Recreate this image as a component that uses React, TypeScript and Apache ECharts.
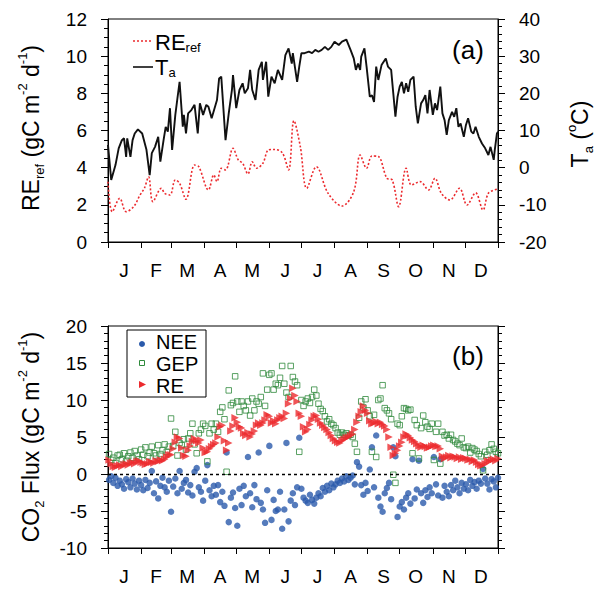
import React, { useEffect, useRef } from 'react';
import * as echarts from 'echarts';

const FONT = "'Liberation Sans', Arial, Helvetica, sans-serif";

// X axis: months (ticks at month starts, letters at mid-month)
const monthLabels = ['J', 'F', 'M', 'A', 'M', 'J', 'J', 'A', 'S', 'O', 'N', 'D'];
const monthStarts = [0, 31, 59, 90, 120, 151, 181, 212, 243, 273, 304, 334, 365];
const monthMids = [15, 45, 74, 105, 135, 166, 196, 227, 258, 288, 319, 349];

// Panel (a): air temperature Ta (right axis, degC)
const taDays = [0, 3, 7, 10, 13, 15, 17, 18, 21, 23, 25, 28, 32, 36, 39, 41, 44, 47, 49, 52, 54, 56, 58, 60, 63, 65, 67, 70, 71, 73, 75, 78, 81, 84, 86, 89, 92, 94, 97, 102, 104, 106, 110, 113, 116, 117, 120, 123, 126, 128, 131, 133, 135, 138, 141, 144, 145, 148, 150, 153, 156, 159, 163, 166, 169, 172, 173, 177, 179, 181, 184, 188, 191, 194, 197, 200, 203, 206, 209, 212, 216, 219, 222, 223, 227, 230, 232, 234, 236, 237, 240, 242, 245, 247, 249, 251, 253, 256, 260, 262, 265, 267, 269, 271, 273, 275, 277, 279, 281, 283, 286, 288, 290, 293, 295, 297, 299, 301, 304, 306, 308, 311, 313, 315, 317, 319, 322, 324, 326, 328, 330, 333, 335, 337, 340, 342, 344, 347, 350, 353, 356, 358, 361, 362, 364, 365];
const taValues = [6.1, -3.3, 0.7, 5.2, 7.4, 7.9, 2.9, 7.9, 2.9, 7.4, 9.2, 10.3, 9.2, 4.8, -2.0, 3.9, 5.6, 8.3, 1.6, 7.4, 11.0, 9.7, 16.0, 4.8, 14.2, 18.7, 23.1, 11.0, 14.2, 9.2, 14.6, 15.5, 16.9, 9.2, 17.3, 14.2, 16.9, 16.4, 13.3, 18.2, 24.0, 24.5, 7.4, 14.6, 20.9, 24.9, 16.0, 20.9, 22.7, 20.0, 21.4, 26.3, 20.9, 18.2, 26.3, 28.5, 23.6, 28.5, 19.1, 24.5, 22.7, 26.3, 23.6, 30.3, 32.1, 28.0, 30.8, 23.1, 27.2, 30.8, 30.8, 31.2, 30.8, 31.7, 31.2, 31.7, 32.5, 31.7, 32.5, 33.9, 33.0, 33.9, 34.3, 34.5, 31.7, 29.4, 26.3, 28.0, 26.3, 29.9, 32.1, 27.2, 19.1, 19.5, 17.7, 27.2, 23.6, 27.6, 29.4, 27.2, 26.3, 20.0, 13.7, 19.1, 21.8, 23.1, 20.0, 22.7, 20.4, 23.6, 24.5, 16.4, 11.9, 17.3, 18.2, 19.5, 14.6, 20.9, 14.2, 17.3, 15.5, 21.8, 14.6, 12.8, 8.8, 12.8, 15.0, 13.7, 16.0, 11.0, 11.9, 8.3, 11.5, 13.3, 9.7, 9.2, 11.0, 8.3, 6.5, 5.2, 3.4, 5.6, 2.1, 4.8, 9.2, 9.7];

// Panel (a): reference respiration REref (left axis)
const reRefDays = [0, 4, 11, 17, 24, 30, 34, 38, 42, 50, 53, 58, 63, 67, 73, 81, 85, 94, 99, 102, 106, 110, 117, 122, 126, 131, 135, 139, 145, 150, 155, 163, 169, 174, 180, 186, 195, 206, 219, 230, 236, 242, 247, 253, 261, 266, 272, 279, 284, 292, 300, 306, 312, 320, 329, 336, 344, 351, 356, 364];
const reRefValues = [3.24, 1.63, 2.35, 1.63, 1.90, 2.53, 2.89, 3.51, 2.17, 2.89, 2.62, 2.53, 3.34, 3.16, 2.30, 4.14, 4.05, 2.80, 3.61, 3.25, 3.97, 3.88, 5.04, 4.41, 4.24, 3.66, 4.32, 3.97, 4.24, 4.95, 4.98, 4.81, 3.88, 6.53, 5.13, 2.89, 4.05, 2.62, 1.94, 2.71, 4.68, 3.97, 4.63, 4.60, 3.43, 3.34, 1.90, 3.97, 3.07, 3.25, 2.80, 3.43, 2.62, 2.26, 2.89, 1.99, 2.65, 1.72, 2.62, 2.84];

// Panel (b): CO2 fluxes, one value every 2nd day starting at day 1
const FLUX_FIRST_DAY = 1;
const FLUX_STEP = 2;
const neeValues = [
  -0.8, -0.3, -1.2, -0.5, -1.6, -0.9, -1.4, -2.0, -0.7, -1.1, -1.8, -0.6, -1.3, -2.1, -0.9,
  -1.5, -2.2, -0.8, -1.9, -1.2, 0.4, -2.6, -1.0, -3.3, -1.6, -0.5, -1.8, -2.4, -0.9,
  -5.1, -1.7, -0.6, -2.6, 0.4, -2.0, -1.2, -0.8, -2.5, -1.5, -2.9, 0.3, 0.8, -1.8, -2.4, -3.6,
  -0.9, 1.2, -2.2, -3.0, -1.6, -2.8, -1.5, -3.8, -2.4, -4.3, 2.9, -6.5, -3.2, -2.5, -4.6,
  -7.0, -2.0, -4.2, -1.6, -3.0, 2.3, -2.6, -4.5, -1.5, -3.4, 2.9, -3.9, -4.8, -6.6, -2.2,
  3.8, -6.2, -3.5, -5.0, -4.8, -2.4, -7.4, -4.8, 4.2, -6.4, -3.6, -2.6, -4.2, -1.8, 4.9,
  -2.0, -3.2, -3.6, -3.9, -2.8, -3.5, -4.0, -3.2, -2.6, -3.0, -1.9, -2.4, -1.6, -2.2, -1.3, -1.8,
  -1.4, -0.9, -1.2, -0.6, -1.0, -0.3, -0.8, -0.5, -0.2, -1.4, 1.6, 1.0, -1.5, -2.8, -1.2,
  -2.3, 0.6, 3.6, -1.8, 5.2, -3.2, -4.4, -5.1, -2.6, -1.9, -1.2, -3.4, 3.6, 2.4, -5.8,
  -4.4, -3.8, -4.8, -3.2, -2.6, -4.0, 2.0, -3.3, -2.1, 1.8, -2.6, -3.9, -2.2, -3.1, -1.8, -2.6,
  2.3, -1.4, -2.9, 2.0, -3.2, -1.6, -2.4, -3.0, -1.5, -2.2, -0.9, -1.8, -2.6, -1.2, -2.0,
  -1.4, -2.2, -0.8, -1.6, -1.1, -2.0, -0.9, -1.3, 0.7, -0.6, -1.3, -2.1, -0.7, -1.0, -1.8, -0.5,
];
const gepValues = [
  2.7, 1.9, 2.2, 1.5, 2.5, 2.6, 2.0, 2.8, 1.8, 2.4, 2.9, 2.2, 3.1, 2.5, 2.0,
  3.3, 2.6, 3.6, 2.4, 2.9, 3.7, 2.8, 2.5, 3.9, 2.7, 3.2, 4.0, 3.0, 3.7,
  7.5, 3.8, 5.7, 2.5, 4.2, 3.9, 4.7, 3.3, 4.8, 5.5, 6.8, 4.0, 2.8, 5.5, 6.0, 6.8,
  6.5, 1.7, 5.5, 6.8, 6.0, 6.8, 5.7, 8.4, 9.0, 7.4, 0.3, 11.3, 9.3, 9.6, 13.2,
  9.8, 8.4, 9.8, 9.2, 8.6, 9.8, 7.9, 10.2, 8.6, 9.8, 9.5, 10.4, 13.6, 9.2, 11.4,
  13.4, 13.6, 11.4, 12.2, 12.0, 13.0, 14.6, 12.2, 11.0, 10.4, 14.6, 13.1, 12.5, 12.0, 3.0,
  10.0, 9.2, 9.8, 10.2, 9.6, 10.4, 11.4, 10.6, 9.5, 8.8, 8.5, 7.8, 7.1, 7.4, 6.8, 6.6,
  6.2, 5.6, 5.3, 5.6, 5.3, 5.5, 5.2, 5.3, 5.0, 4.1, 3.0, 7.6, 9.8, 9.0, 10.1,
  8.6, 7.8, 3.0, 8.0, 2.3, 10.0, 10.2, 12.0, 8.9, 8.6, 8.2, 7.4, -0.1, -1.2, 6.8,
  6.6, 7.8, 8.9, 8.8, 8.6, 8.7, 2.8, 7.3, 6.6, 2.1, 6.2, 7.9, 7.0, 6.4, 6.1, 6.8,
  1.9, 5.7, 6.8, 1.4, 5.7, 5.2, 5.3, 4.8, 5.3, 4.6, 4.4, 4.1, 3.9, 4.8, 3.6,
  3.5, 3.7, 2.9, 3.5, 3.3, 3.1, 2.7, 2.4, 0.5, 3.0, 2.6, 3.2, 4.0, 3.4, 3.0, 2.8,
];
const reValues = [
  1.9, 1.4, 1.0, 0.9, 1.1, 1.2, 1.0, 1.3, 1.4, 1.2, 1.5, 1.6, 1.4, 1.7, 1.8,
  1.6, 1.5, 1.3, 1.4, 1.7, 1.6, 1.5, 1.8, 1.7, 1.9, 1.8, 2.0, 2.3, 2.6,
  2.6, 3.4, 4.3, 5.0, 4.8, 3.5, 2.5, 2.4, 3.2, 3.8, 4.4, 4.8, 4.5, 4.2, 4.6, 3.5,
  2.9, 3.0, 3.4, 3.7, 4.0, 4.2, 5.0, 6.4, 6.6, 4.5, 3.2, 4.2, 5.8, 6.5, 7.6,
  7.0, 6.4, 6.2, 5.5, 5.2, 5.6, 5.0, 5.4, 5.8, 6.6, 6.9, 6.6, 6.9, 7.3, 8.0,
  7.8, 6.9, 7.2, 6.8, 7.3, 7.6, 7.8, 7.5, 8.2, 9.5, 10.2, 11.6, 10.6, 9.8, 8.2,
  7.8, 6.4, 5.7, 6.0, 6.7, 7.3, 7.8, 7.9, 7.4, 6.9, 6.6, 6.3, 6.0, 5.6, 5.2, 4.8,
  4.5, 4.3, 4.2, 4.5, 4.7, 4.9, 5.0, 5.2, 5.4, 6.0, 7.0, 7.8, 8.4, 9.2, 8.6,
  8.2, 7.2, 6.8, 6.9, 7.1, 6.8, 7.0, 6.7, 6.5, 6.0, 5.0, 3.6, 2.5, 2.8, 3.2,
  3.8, 4.3, 5.0, 5.4, 5.2, 4.9, 4.6, 4.4, 4.1, 3.8, 3.6, 3.9, 3.7, 3.5, 3.6, 3.8,
  3.9, 3.7, 3.8, 3.4, 2.4, 2.1, 2.3, 2.5, 2.2, 2.4, 2.3, 2.1, 2.3, 2.0, 2.2,
  2.1, 1.9, 2.0, 1.7, 1.9, 1.6, 1.3, 1.1, 1.2, 1.4, 1.8, 1.7, 1.9, 2.0, 1.8, 2.1,
];

const RED = '#ec2a2e';
const BLUE = '#2a5aab';
const GREEN = '#2f8a3c';

const dayCategories = Array.from({ length: 366 }, (_, i) => String(i));
const labelOfDay: Record<number, string> = {};
monthMids.forEach((d, i) => { labelOfDay[d] = monthLabels[i]; });
const fluxPairs = (vals: number[]) => vals.map((v, i) => [FLUX_FIRST_DAY + i * FLUX_STEP, v]);

const makeX = (gridIndex: number) => ({
  gridIndex,
  type: 'category',
  data: dayCategories,
  boundaryGap: false,
  axisLine: { show: true, onZero: false, lineStyle: { color: '#000', width: 1 } },
  axisTick: { show: true, interval: (i: number) => monthStarts.includes(i), length: 6, lineStyle: { color: '#000' } },
  axisLabel: {
    show: true,
    interval: (i: number) => monthMids.includes(i),
    formatter: (v: string) => labelOfDay[Number(v)] ?? '',
    margin: 19, fontSize: 19, color: '#000', fontFamily: FONT,
  },
  splitLine: { show: false },
});

const makeY = (gridIndex: number, position: string, min: number, max: number, interval: number, minorSplit: number, showLabel: boolean) => ({
  gridIndex, type: 'value', position, min, max, interval,
  axisLine: { show: true, onZero: false, lineStyle: { color: '#000', width: 1 } },
  axisTick: { show: true, length: 7, lineStyle: { color: '#000' } },
  minorTick: { show: true, splitNumber: minorSplit, length: 4, lineStyle: { color: '#000' } },
  axisLabel: { show: showLabel, fontSize: 19, color: '#000', fontFamily: FONT, margin: 21 },
  splitLine: { show: false },
  minorSplitLine: { show: false },
});

const mainRich = {
  m: { fontSize: 23, fontFamily: FONT, fill: '#000', lineHeight: 30 },
  s: { fontSize: 13, fontFamily: FONT, fill: '#000', lineHeight: 30, verticalAlign: 'bottom' },
  p: { fontSize: 13, fontFamily: FONT, fill: '#000', lineHeight: 30, verticalAlign: 'top' },
};
const legRich = {
  l: { fontSize: 22, fontFamily: FONT, fill: '#000', lineHeight: 24 },
  ls: { fontSize: 13, fontFamily: FONT, fill: '#000', lineHeight: 24, verticalAlign: 'bottom' },
};
const boxText = (text: string, y: number) => ({
  type: 'text', x: 156, y, z: 11,
  style: { text, fontSize: 20, lineHeight: 17, fontFamily: FONT, fill: '#000', align: 'left', verticalAlign: 'middle' },
});

const option = {
  animation: false,
  backgroundColor: '#fff',
  grid: [
    { left: 108, right: 98, top: 19, height: 223, show: true, borderColor: '#000', borderWidth: 1, containLabel: false },
    { left: 108, right: 98, top: 326, height: 222, show: true, borderColor: '#000', borderWidth: 1, containLabel: false },
  ],
  xAxis: [makeX(0), makeX(1)],
  yAxis: [
    makeY(0, 'left', 0, 12, 2, 4, true),
    makeY(0, 'right', -20, 40, 10, 5, true),
    makeY(1, 'left', -10, 20, 5, 5, true),
    makeY(1, 'right', -10, 20, 5, 5, false),
  ],
  series: [
    {
      name: 'REref', type: 'line', xAxisIndex: 0, yAxisIndex: 0,
      data: reRefDays.map((d, i) => [d, reRefValues[i]]),
      showSymbol: false, smooth: 0.35,
      lineStyle: { color: RED, width: 1.6, type: [2, 2] },
      z: 3,
    },
    {
      name: 'Ta', type: 'line', xAxisIndex: 0, yAxisIndex: 1,
      data: taDays.map((d, i) => [d, taValues[i]]),
      showSymbol: false,
      lineStyle: { color: '#111', width: 1.9 },
      z: 4,
    },
    {
      name: 'NEE', type: 'scatter', xAxisIndex: 1, yAxisIndex: 2,
      data: fluxPairs(neeValues),
      symbol: 'circle', symbolSize: 6.5,
      itemStyle: { color: BLUE },
    },
    {
      name: 'GEP', type: 'scatter', xAxisIndex: 1, yAxisIndex: 2,
      data: fluxPairs(gepValues),
      symbol: 'rect', symbolSize: 5.5,
      itemStyle: { color: 'rgba(255,255,255,0)', borderColor: GREEN, borderWidth: 1 },
    },
    {
      name: 'RE', type: 'scatter', xAxisIndex: 1, yAxisIndex: 2,
      data: fluxPairs(reValues),
      symbol: 'triangle', symbolSize: 7.5, symbolRotate: -90,
      itemStyle: { color: RED },
      markLine: {
        silent: true, symbol: ['none', 'none'], label: { show: false }, z: 6,
        lineStyle: { color: '#000', type: [3, 3], width: 1.4 },
        data: [{ yAxis: 0 }],
      },
    },
  ],
  graphic: [
    { type: 'text', x: 31, y: 128, rotation: Math.PI / 2, style: { text: '{m|RE}{s|ref}{m| (gC m}{p|-2}{m| d}{p|-1}{m|)}', rich: mainRich, align: 'center', verticalAlign: 'middle' } },
    { type: 'text', x: 580, y: 134, rotation: Math.PI / 2, style: { text: '{m|T}{s|a}{m| (}{p|o}{m|C)}', rich: mainRich, align: 'center', verticalAlign: 'middle' } },
    { type: 'text', x: 31, y: 437, rotation: Math.PI / 2, style: { text: '{m|CO}{s|2}{m| Flux (gC m}{p|-2}{m| d}{p|-1}{m|)}', rich: mainRich, align: 'center', verticalAlign: 'middle' } },
    { type: 'line', shape: { x1: 133, y1: 41, x2: 152, y2: 41 }, style: { stroke: RED, lineWidth: 1.6, lineDash: [2, 2] } },
    { type: 'text', x: 155, y: 42, style: { text: '{l|RE}{ls|ref}', rich: legRich, align: 'left', verticalAlign: 'middle' } },
    { type: 'line', shape: { x1: 133, y1: 67, x2: 153, y2: 67 }, style: { stroke: '#111', lineWidth: 1.6 } },
    { type: 'text', x: 155, y: 67, style: { text: '{l|T}{ls|a}', rich: legRich, align: 'left', verticalAlign: 'middle' } },
    { type: 'text', x: 468, y: 50, style: { text: '(a)', fontSize: 26, fontFamily: FONT, fill: '#000', align: 'center', verticalAlign: 'middle' } },
    { type: 'text', x: 468, y: 356, style: { text: '(b)', fontSize: 26, fontFamily: FONT, fill: '#000', align: 'center', verticalAlign: 'middle' } },
    { type: 'rect', shape: { x: 127, y: 330, width: 79, height: 67 }, style: { fill: '#fff', stroke: '#000', lineWidth: 1 }, z: 10 },
    { type: 'circle', shape: { cx: 142, cy: 344, r: 3 }, style: { fill: BLUE }, z: 11 },
    { type: 'rect', shape: { x: 139.5, y: 360.5, width: 5, height: 5 }, style: { fill: 'rgba(255,255,255,0)', stroke: GREEN, lineWidth: 1 }, z: 11 },
    { type: 'polygon', shape: { points: [[139, 381], [146, 384.5], [139, 388]] }, style: { fill: RED }, z: 11 },
    boxText('NEE', 342),
    boxText('GEP', 364),
    boxText('RE', 386),
  ],
};

export default function App() {
  const ref = useRef<HTMLDivElement>(null);
  useEffect(() => {
    if (!ref.current) return;
    const chart = echarts.init(ref.current, null, { renderer: 'svg' });
    chart.setOption(option as any);
    return () => chart.dispose();
  }, []);
  return <div ref={ref} style={{ position: 'fixed', left: 0, top: 0, width: 596, height: 591, background: '#fff' }} />;
}
